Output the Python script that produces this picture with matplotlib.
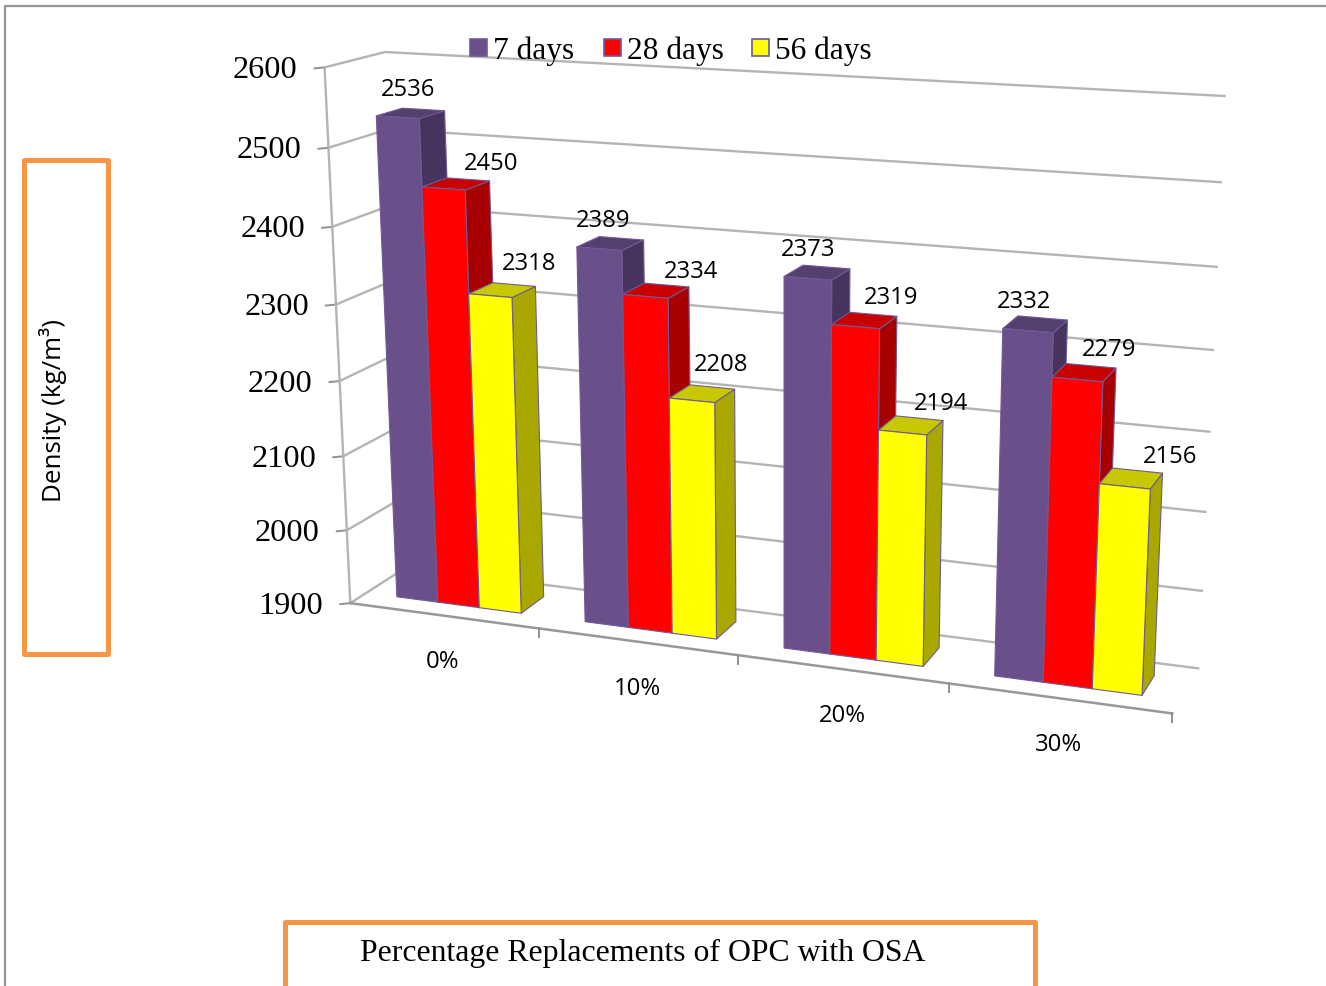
import numpy as np
import matplotlib
matplotlib.use("Agg")
import matplotlib.pyplot as plt
from matplotlib.patches import Polygon

# dados
categories = ['0%', '10%', '20%', '30%']
series = ['7 days', '28 days', '56 days']
d7 = [2536, 2389, 2373, 2332]
d28 = [2450, 2334, 2319, 2279]
d56 = [2318, 2208, 2194, 2156]
yticks = [1900, 2000, 2100, 2200, 2300, 2400, 2500, 2600]

front_cols = ['#69508A', '#FF0000', '#FFFF00']
side_cols = ['#47345E', '#A80000', '#A8A800']
top_cols = ['#54406F', '#C80000', '#C8C800']

VMIN, VMAX = 1900.0, 2600.0
GAP = 1 / 6.0
BAR_W = 2 / 9.0
D0, D1 = 0.28, 0.72

# camera: least squares of the 3D box corners -> image pixels
calib = [
    (0, 0, 1900, 349, 604), (1, 0, 1900, 538, 628), (2, 0, 1900, 737, 655),
    (3, 0, 1900, 948, 684), (4, 0, 1900, 1173, 713), (0, 1, 1900, 408, 567),
    (4, 1, 1900, 1198, 668), (0, 0, 2600, 325, 67), (0, 1, 2600, 383, 52),
    (4, 1, 2600, 1224, 96), (4, 1, 2500, 1221, 183), (4, 1, 2400, 1217, 267),
    (4, 1, 2300, 1213, 351), (4, 1, 2200, 1209, 430), (4, 1, 2100, 1206, 512),
    (4, 1, 2000, 1202, 591), (0, 0, 2500, 329, 147), (0, 0, 2400, 333, 227),
    (0, 0, 2300, 337, 305),
]
A, b = [], []
for u, d, v, px, py in calib:
    w = (v - VMIN) / (VMAX - VMIN)
    A.append([u, d, w, 1, 0, 0, 0, 0, -px * u, -px * d, -px * w])
    A.append([0, 0, 0, 0, u, d, w, 1, -py * u, -py * d, -py * w])
    b += [px, py]
P = np.append(np.linalg.lstsq(np.array(A, float), np.array(b, float), rcond=None)[0], 1).reshape(3, 4)


def proj(u, d, v):
    h = P @ np.array([u, d, (v - VMIN) / (VMAX - VMIN), 1.0])
    return h[0] / h[2], h[1] / h[2]


fig = plt.figure(figsize=(13.26, 9.86), dpi=100)
ax = fig.add_axes([0, 0, 1, 1])
ax.set_xlim(0, 1326)
ax.set_ylim(986, 0)
ax.axis('off')

grid = '#B4B4B4'
serif = 'Liberation Serif'
sans = 'Open Sans'

# outer frame of the pasted picture
ax.plot([5, 5, 1326], [986, 6, 6], color='#969696', lw=1.6)

# walls
for v in yticks:
    pts = [proj(0, 0, v), proj(0, 1, v), proj(4, 1, v)]
    ax.plot(*zip(*pts), color=grid, lw=1.7)
    x0, y0 = pts[0]
    ax.plot([x0 - 10, x0], [y0 + 1, y0], color='#909090', lw=1.4)
    ax.text(x0 - 27, y0 + 3, str(v), ha='right', va='center', family=serif, fontsize=23.3)
ax.plot(*zip(proj(0, 0, VMIN), proj(0, 0, VMAX)), color=grid, lw=1.7)
ax.plot(*zip(proj(0, 0, VMIN), proj(4, 0, VMIN)), color='#989898', lw=1.8)
for i in range(1, 5):
    x0, y0 = proj(i, 0, VMIN)
    ax.plot([x0, x0], [y0, y0 + 9], color='#909090', lw=1.4)

# bars
values = [d7, d28, d56]
for i in range(len(categories)):
    for s in range(3):
        v = values[s][i]
        u0 = i + GAP + s * BAR_W
        u1 = u0 + BAR_W
        front = [proj(u0, D0, VMIN), proj(u1, D0, VMIN), proj(u1, D0, v), proj(u0, D0, v)]
        side = [proj(u1, D0, VMIN), proj(u1, D1, VMIN), proj(u1, D1, v), proj(u1, D0, v)]
        top = [proj(u0, D0, v), proj(u1, D0, v), proj(u1, D1, v), proj(u0, D1, v)]
        for pts, col in ((side, side_cols[s]), (top, top_cols[s]), (front, front_cols[s])):
            ax.add_patch(Polygon(pts, closed=True, fc=col, ec='#6F5A96', lw=0.8, joinstyle='round', zorder=3))

# value labels, hand placed like in the original
label_pos = [
    [(408, 89), (603, 220), (808, 249), (1024, 301)],
    [(491, 163), (691, 271), (891, 297), (1109, 349)],
    [(529, 263), (721, 364), (941, 403), (1170, 456)],
]
for s in range(3):
    for i in range(4):
        x0, y0 = label_pos[s][i]
        ax.text(x0, y0 + 1, str(values[s][i]), ha='center', va='center', family=sans, fontsize=17.2, zorder=4)

cat_pos = [(443, 661), (637, 688), (842, 715), (1059, 744)]
for c, (x0, y0) in zip(categories, cat_pos):
    ax.text(x0, y0 + 1, c, ha='center', va='center', family=sans, fontsize=17.2)

# legend
leg_x = [470, 604, 752]
for x0, name, col in zip(leg_x, series, front_cols):
    ax.add_patch(Polygon([(x0, 39), (x0 + 17, 39), (x0 + 17, 56), (x0, 56)], closed=True,
                         fc=col, ec='#6F5A96', lw=1.2, zorder=5))
leg_text_x = [493, 627, 775]
for x0, name in zip(leg_text_x, series):
    ax.text(x0, 51, name, ha='left', va='center', family=serif, fontsize=22.6, zorder=5)

# orange text boxes
orange = '#F79646'
ax.add_patch(Polygon([(23.5, 159.5), (107.5, 159.5), (107.5, 654), (23.5, 654)], closed=True,
                     fc='none', ec=orange, lw=3.6, joinstyle='round'))
ax.plot([284.5, 284.5, 1034.5, 1034.5], [986, 921.5, 921.5, 986], color=orange, lw=3.6, solid_joinstyle='round')
ax.text(53, 410, 'Density (kg/m³)', rotation=90, ha='center', va='center', family=sans, fontsize=18.7)
ax.text(643, 953, 'Percentage Replacements of OPC with OSA', ha='center', va='center', family=serif, fontsize=22.9)

fig.savefig('out.png', dpi=100)
